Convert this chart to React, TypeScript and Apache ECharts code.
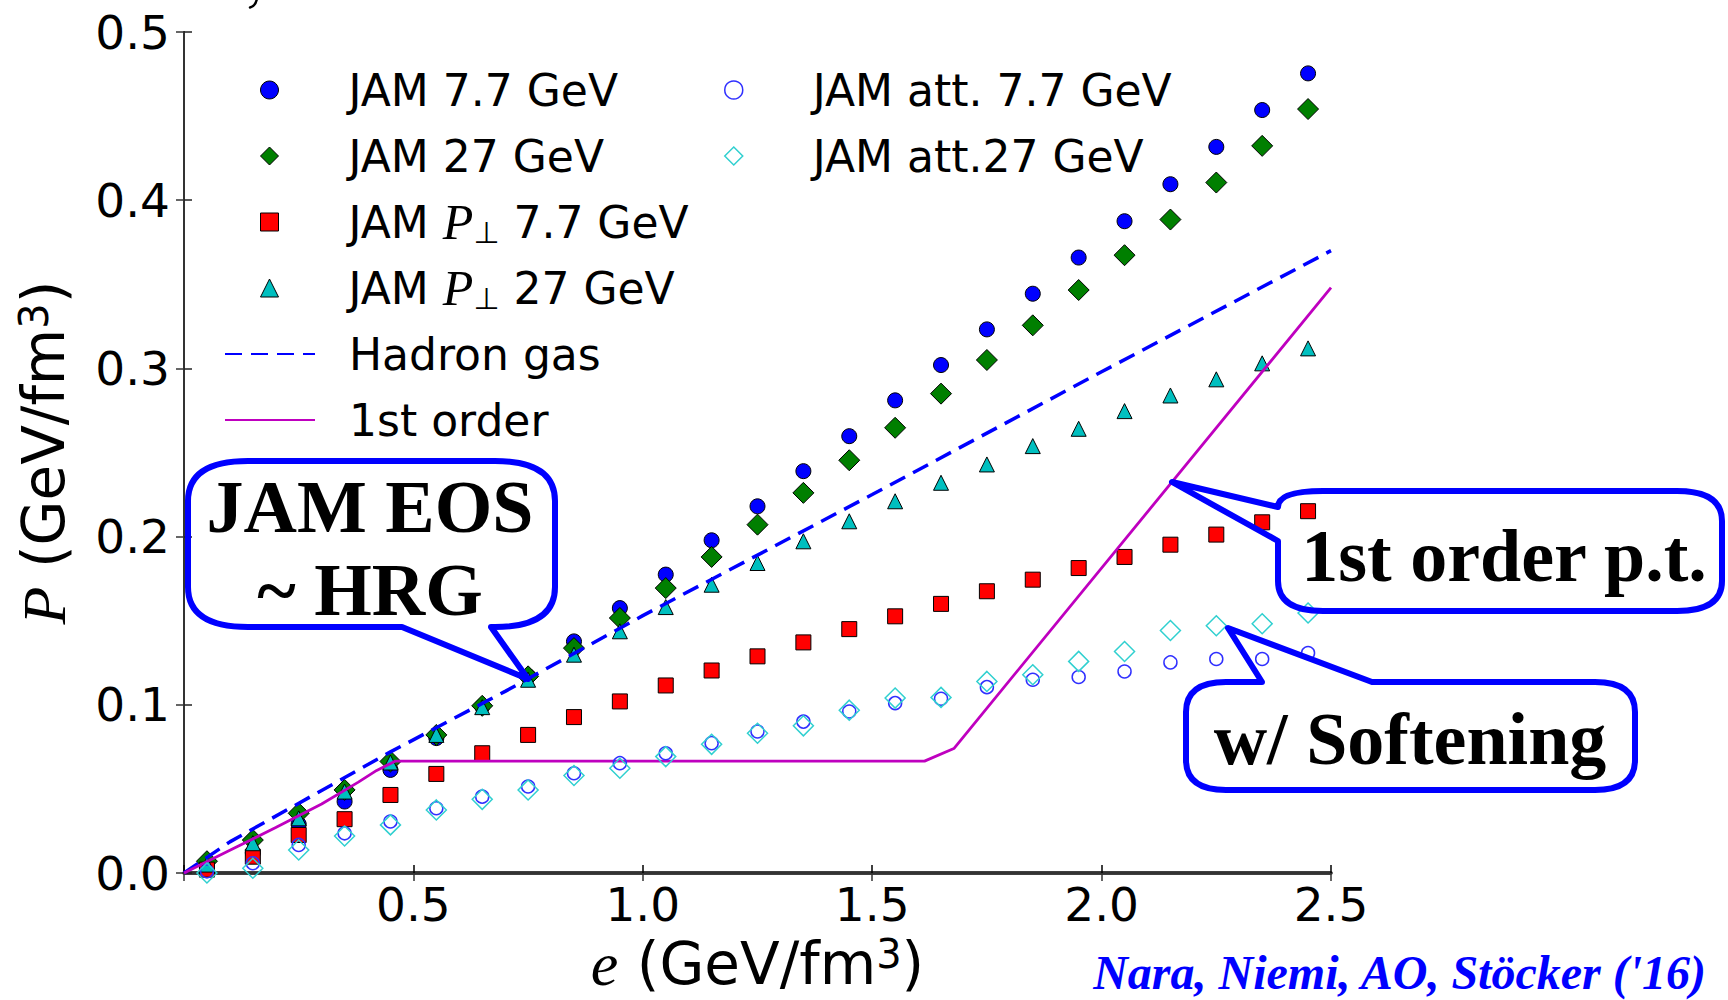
import React, { useEffect, useRef } from "react";
import * as echarts from "echarts";

// ---------------- data ----------------
const ENERGY = [
  0.05, 0.15, 0.25, 0.35, 0.45, 0.55, 0.65, 0.75, 0.85, 0.95, 1.05, 1.15, 1.25,
  1.35, 1.45, 1.55, 1.65, 1.75, 1.85, 1.95, 2.05, 2.15, 2.25, 2.35, 2.45,
];
const JAM_77 = [
  0.004, 0.012, 0.029, 0.0425, 0.0613, 0.0802, 0.099, 0.117, 0.1377, 0.1575,
  0.1774, 0.1978, 0.218, 0.2389, 0.2597, 0.281, 0.302, 0.3232, 0.3444, 0.3659,
  0.3875, 0.4095, 0.4317, 0.4536, 0.4754,
];
const JAM_27 = [
  0.007, 0.0196, 0.0355, 0.0494, 0.0663, 0.0821, 0.0994, 0.1169, 0.1337,
  0.1516, 0.1694, 0.1879, 0.2071, 0.226, 0.2454, 0.2647, 0.285, 0.305, 0.3256,
  0.3466, 0.3673, 0.3885, 0.4105, 0.4323, 0.4542,
];
const JAM_PT_77 = [
  0.002, 0.0097, 0.0226, 0.032, 0.0464, 0.0589, 0.0712, 0.0821, 0.0927, 0.102,
  0.1115, 0.1204, 0.1288, 0.1371, 0.145, 0.1526, 0.16, 0.1675, 0.1744, 0.1813,
  0.1879, 0.1952, 0.2012, 0.2085, 0.2151,
];
const JAM_PT_27 = [
  0.005, 0.0177, 0.0325, 0.0484, 0.0657, 0.0821, 0.0986, 0.1149, 0.1298,
  0.1437, 0.1581, 0.1714, 0.1843, 0.1972, 0.2091, 0.221, 0.232, 0.2429, 0.2538,
  0.2641, 0.2746, 0.2839, 0.2935, 0.303, 0.3119,
];
const JAM_ATT_77 = [
  0.001, 0.0058, 0.0167, 0.0236, 0.0306, 0.0385, 0.0454, 0.0514, 0.0593,
  0.0653, 0.0712, 0.0772, 0.0841, 0.09, 0.096, 0.101, 0.1036, 0.1105, 0.1149,
  0.1165, 0.1198, 0.1252, 0.1272, 0.1272, 0.1308,
];
const JAM_ATT_27 = [
  0.0, 0.0028, 0.0137, 0.022, 0.0286, 0.0375, 0.0438, 0.0494, 0.058, 0.0623,
  0.0692, 0.0765, 0.0831, 0.0875, 0.0968, 0.104, 0.1044, 0.1139, 0.1179,
  0.1258, 0.1317, 0.1442, 0.147, 0.1482, 0.1546,
];
const HG_E = [0, 0.1, 0.45, 0.7, 1.0, 1.5, 2.0, 2.5];
const HG_P = [0, 0.0185, 0.072, 0.108, 0.153, 0.225, 0.298, 0.37];
const FO_E = [0, 0.1, 0.2, 0.3, 0.38, 0.42, 0.46, 1.614, 1.678, 2.5];
const FO_P = [0, 0.0135, 0.027, 0.041, 0.054, 0.061, 0.0665, 0.0665, 0.074, 0.348];

const X_MIN = 0;
const X_MAX = 2.5;
const X_STEP = 0.5;
const Y_MIN = 0;
const Y_MAX = 0.5;
const Y_STEP = 0.1;

const NAMES = [
  "JAM 7.7 GeV",
  "JAM 27 GeV",
  "JAM P⊥ 7.7 GeV",
  "JAM P⊥ 27 GeV",
  "Hadron gas",
  "1st order",
  "JAM att. 7.7 GeV",
  "JAM att.27 GeV",
];

// ---------------- callout shapes ----------------
const BUBBLE_EOS =
  "M 248 461 L 495 461 Q 555 461 555 501 L 555 587 Q 555 627 495 627 L 491 627 L 528 679 L 402 627 L 248 627 Q 188 627 188 587 L 188 501 Q 188 461 248 461 Z";
const BUBBLE_PT =
  "M 1323 491 L 1677 491 Q 1722 491 1722 521 L 1722 581 Q 1722 611 1677 611 L 1323 611 Q 1278 611 1278 581 L 1278 541 L 1172 482 L 1278 507 Q 1278 491 1323 491 Z";
const BUBBLE_SOFT =
  "M 1226 682 L 1262 682 L 1228 628 L 1372 682 L 1595 682 Q 1635 682 1635 712 L 1635 760 Q 1635 790 1595 790 L 1226 790 Q 1186 790 1186 760 L 1186 712 Q 1186 682 1226 682 Z";
// tail of a glyph cut off at the top edge of the slide
const GLYPH_TAIL = "M 257 -2 Q 256 6 250 7.5";

let registered = false;
function registerShapes() {
  if (registered) return;
  registered = true;
  echarts.graphic.registerShape("bubbleEos", echarts.graphic.extendPath(BUBBLE_EOS, {}));
  echarts.graphic.registerShape("bubblePt", echarts.graphic.extendPath(BUBBLE_PT, {}));
  echarts.graphic.registerShape("bubbleSoft", echarts.graphic.extendPath(BUBBLE_SOFT, {}));
  echarts.graphic.registerShape("glyphTail", echarts.graphic.extendPath(GLYPH_TAIL, {}));
}

const pairs = (xs: number[], ys: number[]) => xs.map((x, i) => [x, ys[i]]);

const SANS = "DejaVu Sans";
const SERIF = "Liberation Serif";

function buildOption(): any {
  const bubbleStyle = { fill: "none", stroke: "#0000ff", lineWidth: 6, lineJoin: "round" };
  const bubbleFont = `bold 74px "${SERIF}"`;

  const legendText = (padLeft: number) => ({
    fontSize: 44,
    fontFamily: SANS,
    color: "#000",
    lineHeight: 50,
    padding: [0, 0, 0, padLeft],
    rich: {
      i: { fontFamily: SERIF, fontStyle: "italic", fontSize: 50, lineHeight: 50, color: "#000" },
      s: { fontFamily: SANS, fontSize: 30, lineHeight: 34, verticalAlign: "bottom", color: "#000" },
    },
  });
  const legendFmt = (name: string) => name.replace("P⊥", "{i|P}{s|⊥}");

  const axisNameStyle = {
    fontSize: 58,
    fontFamily: SANS,
    color: "#000",
    lineHeight: 60,
    rich: {
      i: { fontFamily: SERIF, fontStyle: "italic", fontSize: 62, lineHeight: 60, color: "#000" },
      sup: { fontFamily: SANS, fontSize: 40, lineHeight: 32, verticalAlign: "top", color: "#000" },
    },
  };

  const filledEdge = { borderColor: "#000", borderWidth: 1, opacity: 1 };
  const ROW = 66;
  const LEG_TOP = 65;
  const ICON = 18;

  const legendBase = {
    orient: "vertical",
    padding: 0,
    itemHeight: ICON,
    itemGap: ROW - 50,
    align: "left",
    selectedMode: false,
    symbolKeepAspect: true,
    formatter: legendFmt,
  };

  return {
    animation: false,
    backgroundColor: "#fff",
    grid: {
      left: 184,
      top: 32,
      width: 1147,
      height: 841,
      containLabel: false,
      outerBoundsMode: "none",
    },
    xAxis: [
      {
        type: "value",
        min: X_MIN,
        max: X_MAX,
        interval: X_STEP,
        position: "bottom",
        name: "{i|e} (GeV/fm{sup|3})",
        nameLocation: "middle",
        nameGap: 60,
        nameTextStyle: axisNameStyle,
        axisLine: { show: true, lineStyle: { color: "#000", width: 3.5 } },
        axisTick: { show: true, inside: true, length: 8, lineStyle: { color: "#000", width: 1.5 } },
        axisLabel: {
          fontSize: 47,
          fontFamily: SANS,
          color: "#000",
          margin: 8,
          showMinLabel: true,
          showMaxLabel: true,
          formatter: (v: number) => (v === 0 ? "" : v.toFixed(1)),
        },
        splitLine: { show: false },
      },
      {
        type: "value",
        min: X_MIN,
        max: X_MAX,
        interval: X_STEP,
        position: "top",
        axisLine: { show: true, lineStyle: { color: "#333", width: 2 } },
        axisTick: { show: true, inside: true, length: 8, lineStyle: { color: "#333", width: 1.5 } },
        axisLabel: { show: false },
        splitLine: { show: false },
      },
    ],
    yAxis: [
      {
        type: "value",
        min: Y_MIN,
        max: Y_MAX,
        interval: Y_STEP,
        position: "left",
        name: "{i|P} (GeV/fm{sup|3})",
        nameLocation: "middle",
        nameGap: 110,
        nameTextStyle: axisNameStyle,
        axisLine: { show: true, lineStyle: { color: "#222", width: 2 } },
        axisTick: { show: true, inside: true, length: 8, lineStyle: { color: "#222", width: 1.5 } },
        axisLabel: {
          fontSize: 47,
          fontFamily: SANS,
          color: "#000",
          margin: 14,
          showMinLabel: true,
          showMaxLabel: true,
          formatter: (v: number) => v.toFixed(1),
        },
        splitLine: { show: false },
      },
      {
        type: "value",
        min: Y_MIN,
        max: Y_MAX,
        interval: Y_STEP,
        position: "right",
        axisLine: { show: true, lineStyle: { color: "#333", width: 2 } },
        axisTick: { show: true, inside: true, length: 8, lineStyle: { color: "#333", width: 1.5 } },
        axisLabel: { show: false },
        splitLine: { show: false },
      },
    ],
    legend: [
      {
        ...legendBase,
        left: 269 - ICON / 2,
        top: LEG_TOP,
        itemWidth: ICON,
        itemStyle: { borderWidth: 1 },
        textStyle: legendText(348 - (269 + ICON / 2) - 5),
        data: [NAMES[0], NAMES[1], NAMES[2], NAMES[3]],
      },
      {
        ...legendBase,
        left: 224,
        top: LEG_TOP + 4 * ROW,
        itemWidth: 90,
        textStyle: legendText(29),
        data: [
          { name: NAMES[4], itemStyle: { opacity: 0 } },
          { name: NAMES[5], itemStyle: { opacity: 0 } },
        ],
      },
      {
        ...legendBase,
        left: 733 - ICON / 2,
        top: LEG_TOP,
        itemWidth: ICON,
        itemStyle: { borderWidth: 1.5 },
        textStyle: legendText(812 - (733 + ICON / 2) - 5),
        data: [NAMES[6], NAMES[7]],
      },
    ],
    series: [
      {
        name: NAMES[0],
        type: "scatter",
        symbol: "circle",
        symbolSize: 15,
        z: 2,
        itemStyle: { color: "#0000ff", ...filledEdge },
        data: pairs(ENERGY, JAM_77),
      },
      {
        name: NAMES[1],
        type: "scatter",
        symbol: "diamond",
        symbolSize: 21,
        z: 2,
        itemStyle: { color: "#007f00", ...filledEdge },
        data: pairs(ENERGY, JAM_27),
      },
      {
        name: NAMES[2],
        type: "scatter",
        symbol: "rect",
        symbolSize: 15,
        z: 2,
        itemStyle: { color: "#ff0000", ...filledEdge },
        data: pairs(ENERGY, JAM_PT_77),
      },
      {
        name: NAMES[3],
        type: "scatter",
        symbol: "triangle",
        symbolSize: 15,
        z: 2,
        itemStyle: { color: "#00bfbf", ...filledEdge },
        data: pairs(ENERGY, JAM_PT_27),
      },
      {
        name: NAMES[4],
        type: "line",
        symbol: "none",
        z: 3,
        itemStyle: { color: "#0000ff" },
        lineStyle: { color: "#0000ff", width: 3.5, type: [17, 9] },
        data: pairs(HG_E, HG_P),
      },
      {
        name: NAMES[5],
        type: "line",
        symbol: "none",
        z: 3,
        itemStyle: { color: "#bf00bf" },
        lineStyle: { color: "#bf00bf", width: 2.8 },
        data: pairs(FO_E, FO_P),
      },
      {
        name: NAMES[6],
        type: "scatter",
        symbol: "circle",
        symbolSize: 13,
        z: 4,
        itemStyle: { color: "rgba(0,0,0,0)", borderColor: "#3030ff", borderWidth: 1.5, opacity: 1 },
        data: pairs(ENERGY, JAM_ATT_77),
      },
      {
        name: NAMES[7],
        type: "scatter",
        symbol: "diamond",
        symbolSize: 20,
        z: 4,
        itemStyle: { color: "rgba(0,0,0,0)", borderColor: "#30d0d0", borderWidth: 1.5, opacity: 1 },
        data: pairs(ENERGY, JAM_ATT_27),
      },
    ],
    graphic: [
      { type: "bubbleEos", x: 0, y: 0, z: 20, silent: true, style: bubbleStyle },
      { type: "bubblePt", x: 0, y: 0, z: 20, silent: true, style: bubbleStyle },
      { type: "bubbleSoft", x: 0, y: 0, z: 20, silent: true, style: bubbleStyle },
      {
        type: "glyphTail", x: 0, y: 0, z: 20, silent: true,
        style: { fill: "none", stroke: "#000", lineWidth: 2.5, lineCap: "round" },
      },
      {
        type: "text", x: 370, y: 507, z: 21, silent: true,
        style: { text: "JAM EOS", font: bubbleFont, fill: "#000", textAlign: "center", textVerticalAlign: "middle" },
      },
      {
        type: "text", x: 370, y: 590, z: 21, silent: true,
        style: { text: "~ HRG", font: bubbleFont, fill: "#000", textAlign: "center", textVerticalAlign: "middle" },
      },
      {
        type: "text", x: 1504, y: 556, z: 21, silent: true,
        style: { text: "1st order p.t.", font: bubbleFont, fill: "#000", textAlign: "center", textVerticalAlign: "middle" },
      },
      {
        type: "text", x: 1410, y: 739, z: 21, silent: true,
        style: { text: "w/ Softening", font: bubbleFont, fill: "#000", textAlign: "center", textVerticalAlign: "middle" },
      },
      {
        type: "text", x: 1706, y: 972, z: 21, silent: true,
        style: {
          text: "Nara, Niemi, AO, Stöcker ('16)",
          font: `italic bold 48px "${SERIF}"`,
          fill: "#0000ff",
          textAlign: "right",
          textVerticalAlign: "middle",
        },
      },
    ],
  };
}

export default function App() {
  const ref = useRef<HTMLDivElement>(null);
  useEffect(() => {
    document.body.style.margin = "0";
    registerShapes();
    const chart = echarts.init(ref.current as HTMLDivElement, null, {
      renderer: "svg",
      width: 1728,
      height: 1000,
    });
    chart.setOption(buildOption());
    return () => chart.dispose();
  }, []);
  return <div ref={ref} style={{ width: 1728, height: 1000 }} />;
}
